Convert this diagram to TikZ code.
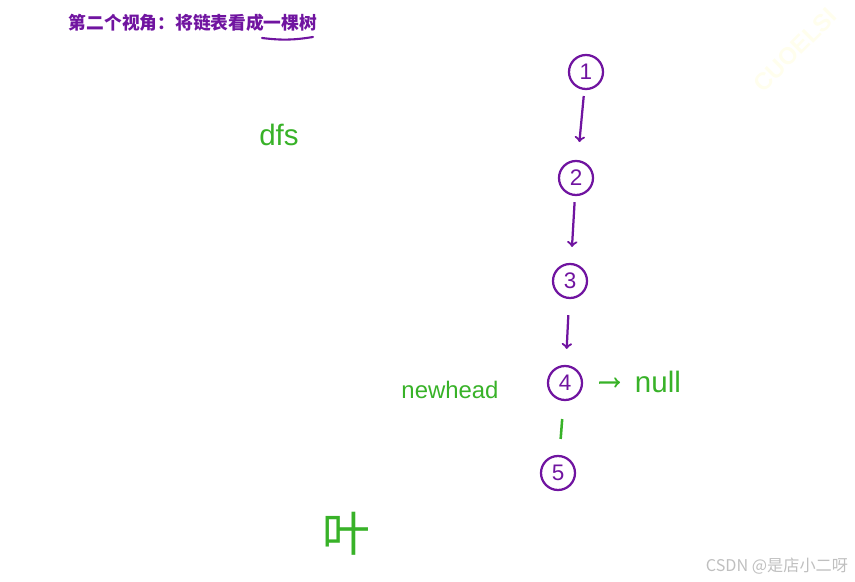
\documentclass[tikz,border=0pt]{standalone}
\usepackage{fontspec}
\setmainfont{Liberation Sans}
\newfontfamily\cjk{Noto Sans CJK SC}
\usepackage{xcolor}
\usepackage{tikz}
\usetikzlibrary{positioning,arrows,shapes}
\definecolor{penpurple}{RGB}{112,20,160}
\definecolor{pengreen}{RGB}{56,178,40}

\begin{document}
\begin{tikzpicture}[
    x=0.025cm, y=-0.025cm,
    elem/.style={circle, draw=penpurple, line width=1.6pt, minimum size=0.85cm, inner sep=0pt, text=penpurple, font=\fontsize{16}{16}\selectfont},
    note/.style={text=pengreen, font=\fontsize{17}{18}\selectfont},
    arrow/.style={->, >=to, line width=1.6pt}
]
    \useasboundingbox (0,0) rectangle (855,582);

    % title
    \node[text=penpurple, font=\cjk\bfseries\fontsize{12.6}{13}\selectfont] (title) at (193,23) {第二个视角：将链表看成一棵树};
    \coordinate (ul1) at (262,38);
    \coordinate (ul2) at (313,37);
    \draw[penpurple, line width=1.5pt, line cap=round] (ul1) to[bend right=8] (ul2);

    % linked list
    \node[elem] (n1) at (586,72) {1};
    \node[elem] (n2) at (576,178) {2};
    \node[elem] (n3) at (570,281) {3};
    \node[elem] (n4) at (565,383) {4};
    \node[elem] (n5) at (558,473) {5};

    \draw[arrow, penpurple, shorten <=0.15cm, shorten >=0.45cm] (n1) -- (n2);
    \draw[arrow, penpurple, shorten <=0.15cm, shorten >=0.4cm] (n2) -- (n3);
    \draw[arrow, penpurple, shorten <=0.4cm, shorten >=0.4cm] (n3) -- (n4);
    \draw[pengreen, line width=1.8pt, shorten <=0.4cm, shorten >=0.45cm] (n5) -- (n4);

    % labels
    \node[note, anchor=west, font=\fontsize{21}{22}\selectfont] (null) at (630,382) {null};
    \draw[arrow, pengreen, shorten <=0.4cm, shorten >=0.25cm] (n4) -- (null);
    \node[note] (newhead) at (450,390) {newhead};
    \node[note, font=\fontsize{21}{22}\selectfont] (dfs) at (279,135) {dfs};
    \node[text=pengreen, font=\cjk\fontsize{34}{34}\selectfont] (leaf) at (346,534) {叶};

    % watermarks
    \node[text=yellow!7, rotate=45, font=\bfseries\fontsize{17}{17}\selectfont] (wm) at (795,50) {CUOELSI};
    \node[text=black!25, font=\cjk\fontsize{11.5}{12}\selectfont] (csdn) at (777,566) {CSDN @是店小二呀};
\end{tikzpicture}
\end{document}
